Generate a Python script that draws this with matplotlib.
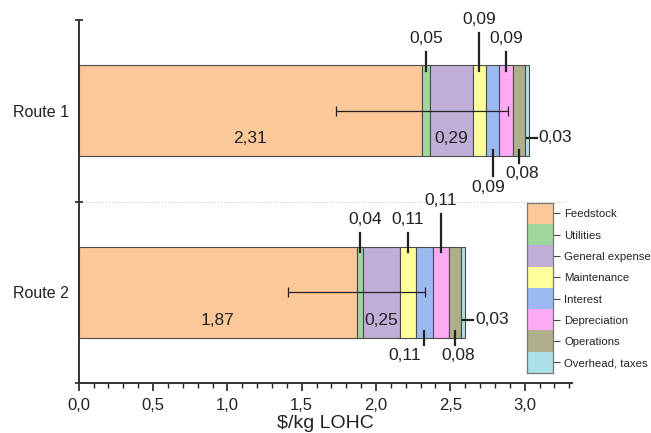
import matplotlib
matplotlib.use("Agg")
import matplotlib.pyplot as plt
import numpy as np
from matplotlib.ticker import FuncFormatter, MultipleLocator

plt.rcParams["font.family"] = ["Liberation Sans", "DejaVu Sans"]

categories = ["Feedstock", "Utilities", "General expense", "Maintenance",
              "Interest", "Depreciation", "Operations", "Overhead, taxes"]
colors = ["#FBC899", "#9ED69E", "#C1AED6", "#FFFF9C",
          "#9DBAF0", "#FCAAF4", "#AFAF8B", "#AAE0E8"]

routes = ["Route 1", "Route 2"]
route1_costs = [2.31, 0.05, 0.29, 0.09, 0.09, 0.09, 0.08, 0.03]
route2_costs = [1.87, 0.04, 0.25, 0.11, 0.11, 0.11, 0.08, 0.03]
feedstock_err = [0.58, 0.46]

# where each value label goes, plus a small sideways nudge for crowded ones
route1_styles = ["in", "up", "in", "up2", "down2", "up", "down", "right"]
route2_styles = ["in", "up", "in", "up", "down", "up2", "down", "right"]
route1_dx = [0, 0, 0, 0, -0.03, 0, 0.02, 0]
route2_dx = [0, 0.04, 0, 0, -0.13, 0, 0.02, 0]

ypos = [1, 0]
bar_h = 0.5
ink = "#222222"


def comma(v, nd=2):
    return f"{v:.{nd}f}".replace(".", ",")


def label_segment(ax, left, width, yc, value, style, dx):
    xc = left + width / 2
    top = yc + bar_h / 2
    bot = yc - bar_h / 2
    txt = comma(value)
    kw = dict(fontsize=12.5, color=ink)
    if style == "in":
        ax.text(xc + dx, yc - 0.155, txt, ha="center", va="center", **kw)
    elif style in ("up", "up2"):
        hi = 0.075 if style == "up" else 0.18
        ty = 0.15 if style == "up" else 0.255
        ax.plot([xc, xc], [top - 0.03, top + hi], color=ink, lw=1.6)
        ax.text(xc + dx, top + ty, txt, ha="center", va="center", **kw)
    elif style in ("down", "down2"):
        lo = 0.04 if style == "down" else 0.11
        ty = 0.095 if style == "down" else 0.175
        ax.plot([xc, xc], [bot + 0.035, bot - lo], color=ink, lw=1.6)
        ax.text(xc + dx, bot - ty, txt, ha="center", va="center", **kw)
    elif style == "right":
        right = left + width
        ax.plot([right - 0.015, right + 0.05], [yc - 0.15, yc - 0.15],
                color=ink, lw=1.6)
        ax.text(right + 0.065 + dx, yc - 0.15, txt, ha="left", va="center", **kw)


fig = plt.figure(figsize=(6.51, 4.33), dpi=100)
ax = fig.add_axes([0.121, 0.115, 0.758, 0.839])

for yc, costs, styles, shifts, err in zip(ypos, [route1_costs, route2_costs],
                                          [route1_styles, route2_styles],
                                          [route1_dx, route2_dx], feedstock_err):
    lefts = np.concatenate([[0], np.cumsum(costs)[:-1]])
    ax.barh([yc] * len(costs), costs, left=lefts, height=bar_h, color=colors,
            edgecolor="#4a4a4a", linewidth=0.8, zorder=2)
    ax.errorbar(costs[0], yc, xerr=err, fmt="none", ecolor=ink, elinewidth=0.9,
                capsize=3.5, capthick=0.9, zorder=3)
    for left, w, s, dx in zip(lefts, costs, styles, shifts):
        label_segment(ax, left, w, yc, w, s, dx)

ax.axhline(0.5, xmin=0, xmax=0.985, color="#c8c8c8", ls=":", lw=0.8, zorder=1)

ax.set_xlim(0, 3.32)
ax.set_ylim(-0.5, 1.5)
ax.xaxis.set_major_locator(MultipleLocator(0.5))
ax.xaxis.set_minor_locator(MultipleLocator(0.1))
ax.xaxis.set_major_formatter(FuncFormatter(lambda v, p: comma(v, 1)))
ax.tick_params(axis="x", which="major", direction="out", length=6, width=1.2,
               colors=ink, labelsize=12, pad=5)
ax.tick_params(axis="x", which="minor", direction="out", length=3.5, width=1.0,
               colors=ink)

ax.set_yticks(ypos)
ax.set_yticklabels(routes)
ax.set_yticks([-0.5, 0.5, 1.5], minor=True)
ax.tick_params(axis="y", which="major", length=0, labelsize=11.5, pad=7,
               colors=ink)
ax.tick_params(axis="y", which="minor", direction="inout", length=6, width=1.2,
               colors=ink)

for side in ("top", "right"):
    ax.spines[side].set_visible(False)
for side in ("left", "bottom"):
    ax.spines[side].set_linewidth(1.4)
    ax.spines[side].set_color("#333333")

ax.set_xlabel("$/kg LOHC", fontsize=14, color=ink, labelpad=1)

# stacked colour key at lower right
lax = fig.add_axes([0.8095, 0.1386, 0.04, 0.393])
n = len(categories)
lax.bar([0] * n, [1] * n, bottom=np.arange(n)[::-1], width=1, color=colors,
        edgecolor="none", align="center")
lax.set_xlim(-0.5, 0.5)
lax.set_ylim(0, n)
lax.set_xticks([])
lax.yaxis.tick_right()
lax.set_yticks(np.arange(n)[::-1] + 0.5)
lax.set_yticklabels(categories)
lax.tick_params(axis="y", direction="out", length=5, width=0.8, colors="#444444",
                labelsize=8.2, labelcolor=ink, pad=3)
for sp in lax.spines.values():
    sp.set_color("#777777")
    sp.set_linewidth(0.9)

fig.savefig("out.png", dpi=100)
